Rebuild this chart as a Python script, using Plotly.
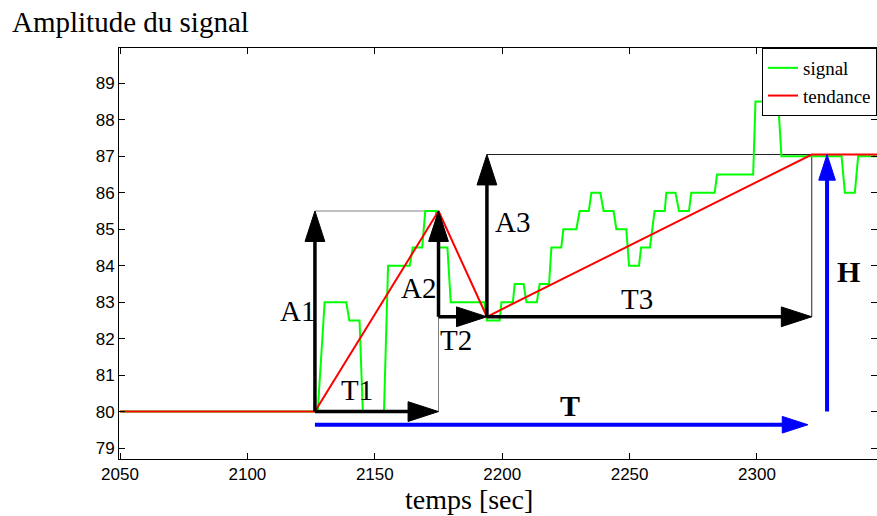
import plotly.graph_objects as go

# ---------------- data ----------------
# green "signal": (time [s], amplitude) plateau corners
signal_points = [
    (2050, 80), (2127.6, 80), (2130.3, 83), (2138.8, 83), (2140.0, 82.5), (2144.0, 82.5),
    (2145.3, 80), (2153.6, 80), (2155.2, 84), (2163.7, 84), (2164.9, 84.5), (2168.6, 84.5),
    (2169.8, 85.5), (2174.0, 85.5), (2175.2, 84.5), (2178.5, 84.5), (2179.8, 83), (2193.0, 83),
    (2194.0, 82.5), (2199.0, 82.5), (2199.7, 83), (2204.2, 83), (2204.9, 83.5), (2208.4, 83.5),
    (2209.5, 83), (2213.6, 83), (2214.7, 83.5), (2218.4, 83.5), (2219.3, 84.5), (2223.2, 84.5),
    (2224.0, 85), (2229.1, 85), (2230.4, 85.5), (2234.0, 85.5), (2235.0, 86), (2238.5, 86),
    (2239.8, 85.5), (2243.7, 85.5), (2244.8, 85), (2248.7, 85), (2249.8, 84), (2253.7, 84),
    (2254.5, 84.5), (2258.0, 84.5), (2259.8, 85.5), (2263.8, 85.5), (2264.4, 86), (2268.0, 86),
    (2269.4, 85.5), (2273.3, 85.5), (2274.2, 86), (2283.4, 86), (2284.3, 86.5), (2298.5, 86.5),
    (2299.4, 88.5), (2308.3, 88.5), (2309.6, 87), (2333.2, 87), (2334.5, 86), (2338.4, 86),
    (2339.7, 87), (2348, 87),
]
signal_t = [p[0] for p in signal_points]
signal_v = [p[1] for p in signal_points]

# red "tendance": key points of the trend
t_start, t_rise, t_peak, t_trough, t_settle, t_end = 2050, 2126.5, 2175.0, 2194.0, 2321.5, 2348
v_base, v_peak, v_trough, v_final = 80.0, 85.5, 82.6, 87.05
trend_t = [t_start, t_rise, t_peak, t_trough, t_settle, t_end]
trend_v = [v_base, v_base, v_peak, v_trough, v_final, v_final]

# measurement helpers (T and H)
T_level = 79.64
H_time = 2327.5
T_tip = 2320.0

x_ticks = [2050, 2100, 2150, 2200, 2250, 2300]
y_ticks = [79, 80, 81, 82, 83, 84, 85, 86, 87, 88, 89]

labels = ["A1", "T1", "A2", "T2", "A3", "T3"]
label_pos = [(2119.5, 82.75), (2143.0, 80.58), (2167.0, 83.4), (2181.7, 81.95),
             (2204.0, 85.2), (2252.8, 83.08)]
bold_labels = ["T", "H"]
bold_pos = [(2226.5, 80.17), (2336.0, 83.85)]

# ---------------- figure ----------------
W, H = 877, 516
L, R, TOP, BOT = 119, 877, 48, 459

SERIF = "Liberation Serif, Times New Roman, serif"
SANS = "Liberation Sans, Arial, Helvetica, sans-serif"

fig = go.Figure()

# thin construction boxes
fig.add_trace(go.Scatter(x=[t_rise, t_peak, t_peak], y=[v_peak, v_peak, v_base],
                         mode="lines", line=dict(color="#808080", width=1),
                         showlegend=False, hoverinfo="skip"))
fig.add_trace(go.Scatter(x=[t_trough, t_settle, t_settle], y=[v_final, v_final, v_trough],
                         mode="lines", line=dict(color="#222222", width=1),
                         showlegend=False, hoverinfo="skip"))

fig.add_trace(go.Scatter(x=signal_t, y=signal_v, mode="lines", name="signal",
                         line=dict(color="#00ff00", width=2)))
fig.add_trace(go.Scatter(x=trend_t, y=trend_v, mode="lines", name="tendance",
                         line=dict(color="#ff0000", width=2)))


def arrow(x0, y0, x1, y1, color, width, size):
    fig.add_trace(go.Scatter(
        x=[x0, x1], y=[y0, y1], mode="lines+markers",
        line=dict(color=color, width=width),
        marker=dict(symbol="arrow", size=[0, size], angleref="previous", color=color,
                    opacity=1, line=dict(width=1, color=color)),
        opacity=1, showlegend=False, hoverinfo="skip"))


black_arrows = [
    (t_rise, v_base, t_rise, v_peak),
    (t_rise, v_base, t_peak, v_base),
    (t_peak, v_trough, t_peak, v_peak),
    (t_peak, v_trough, t_trough, v_trough),
    (t_trough, v_trough, t_trough, v_final),
    (t_trough, v_trough, t_settle, v_trough),
]
for a in black_arrows:
    arrow(*a, color="rgb(0,0,0)", width=3.5, size=32)

arrow(t_rise, T_level, T_tip, T_level, color="rgb(0,0,255)", width=4, size=27)
arrow(H_time, v_base, H_time, v_final, color="rgb(0,0,255)", width=4, size=27)

annotations = []
for txt, (x, y) in zip(labels, label_pos):
    annotations.append(dict(x=x, y=y, xref="x", yref="y", text=txt, showarrow=False,
                            font=dict(family=SERIF, size=29, color="black"),
                            xanchor="center", yanchor="middle"))
for txt, (x, y) in zip(bold_labels, bold_pos):
    annotations.append(dict(x=x, y=y, xref="x", yref="y", text="<b>" + txt + "</b>",
                            showarrow=False,
                            font=dict(family=SERIF, size=30, color="black"),
                            xanchor="center", yanchor="middle"))


def px_x(p):
    return (p - L) / (R - L)


def px_y(p):
    return (BOT - p) / (BOT - TOP)


annotations.append(dict(x=px_x(10), y=px_y(22), xref="paper", yref="paper",
                        text="Amplitude du signal", showarrow=False,
                        xanchor="left", yanchor="middle",
                        font=dict(family=SERIF, size=29, color="black")))
annotations.append(dict(x=px_x(469), y=px_y(499), xref="paper", yref="paper",
                        text="temps [sec]", showarrow=False,
                        xanchor="center", yanchor="middle",
                        font=dict(family=SERIF, size=28, color="black")))

fig.update_layout(
    width=W, height=H,
    margin=dict(l=L, r=W - R, t=TOP, b=H - BOT, pad=0),
    paper_bgcolor="white", plot_bgcolor="white",
    annotations=annotations,
    legend=dict(x=1, y=1, xanchor="right", yanchor="top",
                bgcolor="white", bordercolor="black", borderwidth=1,
                font=dict(family=SERIF, size=19, color="black"),
                itemwidth=30, tracegroupgap=0),
    xaxis=dict(range=[2049.6, 2347.1], tickvals=x_ticks, ticktext=[str(v) for v in x_ticks],
               ticks="inside", ticklen=6, tickcolor="black", showline=True,
               linecolor="black", linewidth=1, mirror="ticks", showgrid=False,
               zeroline=False, tickfont=dict(family=SANS, size=17, color="black")),
    yaxis=dict(range=[78.7, 89.97], tickvals=y_ticks, ticktext=[str(v) for v in y_ticks],
               ticks="inside", ticklen=6, tickcolor="black", showline=True,
               linecolor="black", linewidth=1, mirror="ticks", showgrid=False,
               zeroline=False, tickfont=dict(family=SANS, size=17, color="black")),
)

fig.write_html("out.html", config={"displayModeBar": False},
               post_script="document.body.style.margin='0';document.body.style.overflow='hidden';")
